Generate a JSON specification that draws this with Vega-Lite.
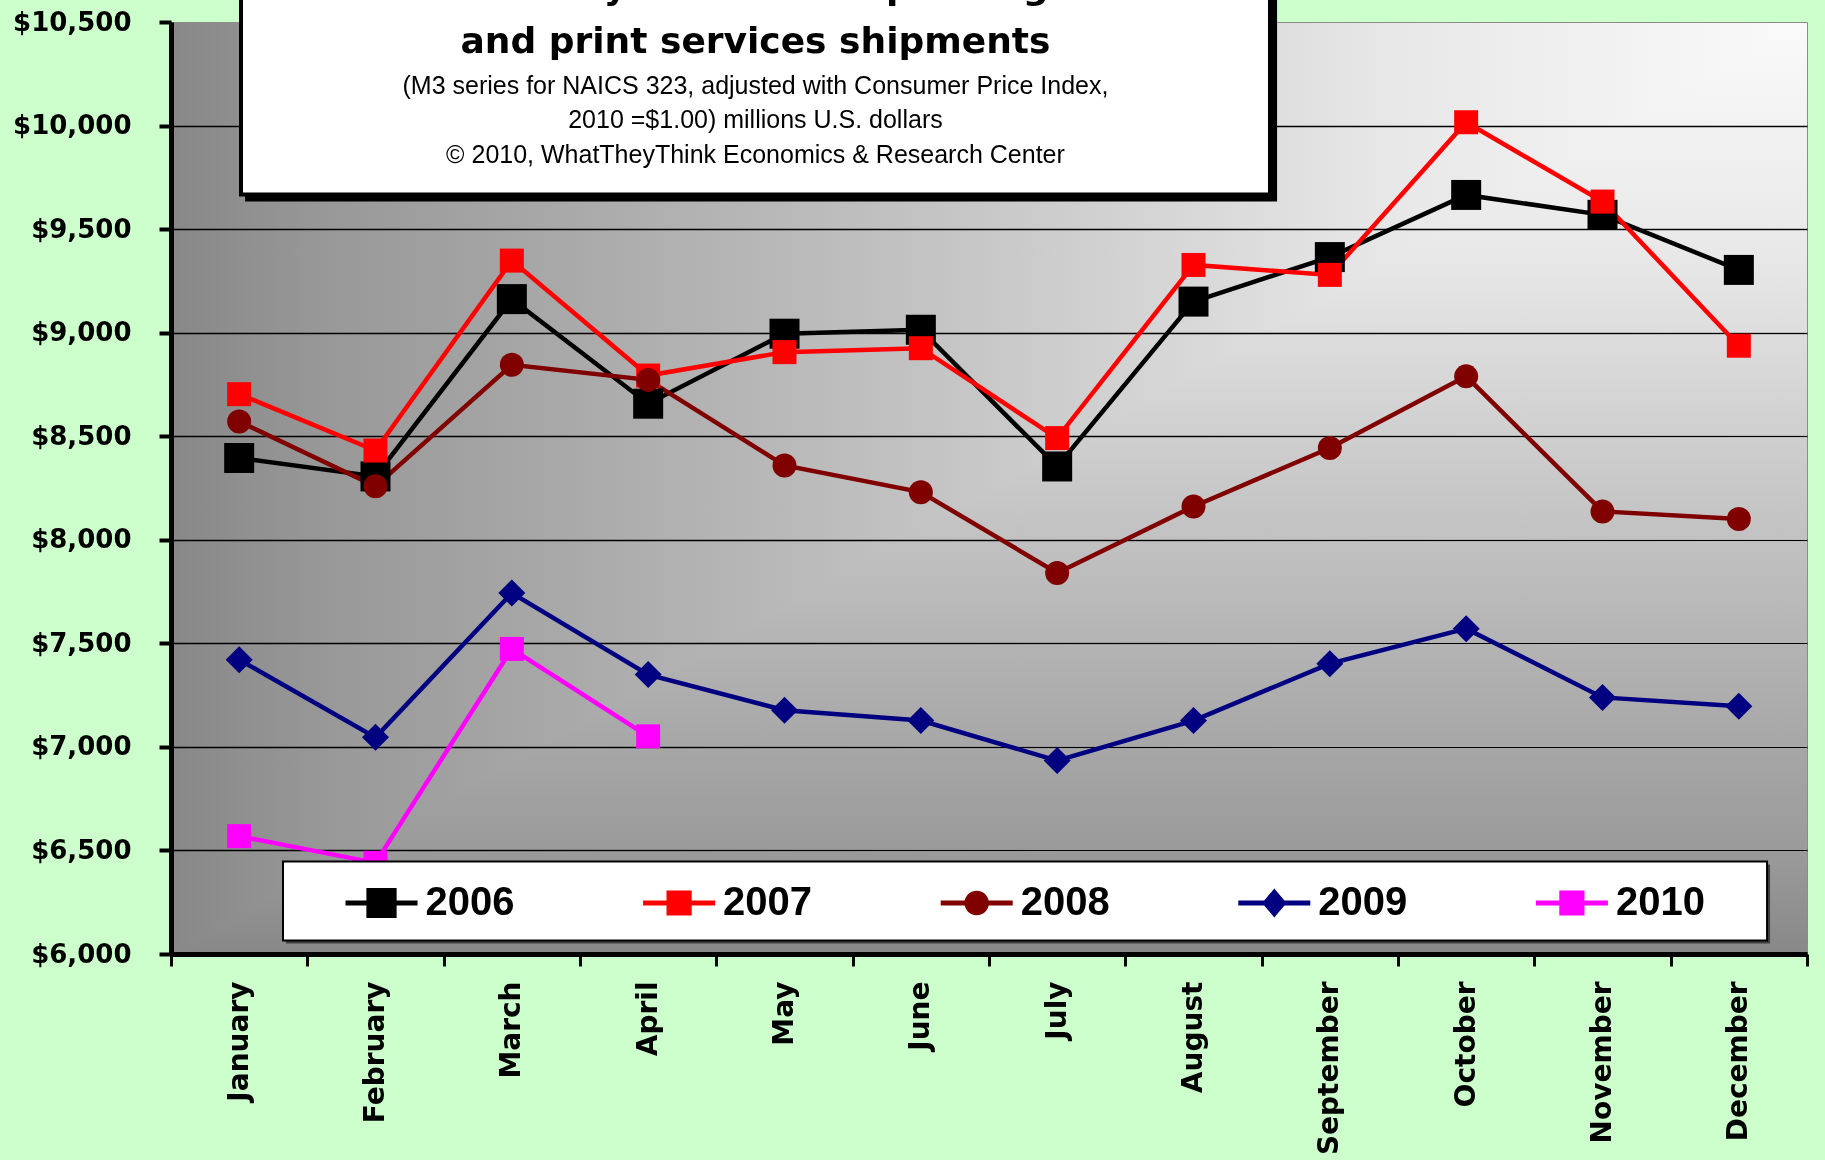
{
  "$schema": "https://vega.github.io/schema/vega-lite/v6.json",
  "width": 1636,
  "height": 932,
  "autosize": "none",
  "padding": {"left": 171, "top": 22, "right": 18, "bottom": 206},
  "background": "#CCFFCC",
  "view": {
    "fill": {"gradient": "linear", "x1": 0, "y1": 0, "x2": 1, "y2": 0,
      "stops": [{"offset": 0, "color": "#888888"}, {"offset": 0.1, "color": "#999999"}, {"offset": 0.25, "color": "#aaaaaa"}, {"offset": 0.5, "color": "#c8c8c8"}, {"offset": 0.75, "color": "#e8e8e8"}, {"offset": 1, "color": "#fafafa"}]},
    "stroke": "#8c8c8c",
    "strokeWidth": 1
  },
  "datasets": {
    "shipments": [
      {"month": "January", "year": "2006", "value": 8395},
      {"month": "February", "year": "2006", "value": 8306},
      {"month": "March", "year": "2006", "value": 9162},
      {"month": "April", "year": "2006", "value": 8657},
      {"month": "May", "year": "2006", "value": 8995},
      {"month": "June", "year": "2006", "value": 9014},
      {"month": "July", "year": "2006", "value": 8354},
      {"month": "August", "year": "2006", "value": 9150},
      {"month": "September", "year": "2006", "value": 9365},
      {"month": "October", "year": "2006", "value": 9665},
      {"month": "November", "year": "2006", "value": 9569},
      {"month": "December", "year": "2006", "value": 9303},
      {"month": "January", "year": "2007", "value": 8703},
      {"month": "February", "year": "2007", "value": 8431},
      {"month": "March", "year": "2007", "value": 9348},
      {"month": "April", "year": "2007", "value": 8793},
      {"month": "May", "year": "2007", "value": 8906},
      {"month": "June", "year": "2007", "value": 8925},
      {"month": "July", "year": "2007", "value": 8491},
      {"month": "August", "year": "2007", "value": 9327},
      {"month": "September", "year": "2007", "value": 9279},
      {"month": "October", "year": "2007", "value": 10016},
      {"month": "November", "year": "2007", "value": 9633},
      {"month": "December", "year": "2007", "value": 8937},
      {"month": "January", "year": "2008", "value": 8571},
      {"month": "February", "year": "2008", "value": 8258},
      {"month": "March", "year": "2008", "value": 8845},
      {"month": "April", "year": "2008", "value": 8772},
      {"month": "May", "year": "2008", "value": 8359},
      {"month": "June", "year": "2008", "value": 8230},
      {"month": "July", "year": "2008", "value": 7840},
      {"month": "August", "year": "2008", "value": 8161},
      {"month": "September", "year": "2008", "value": 8443},
      {"month": "October", "year": "2008", "value": 8789},
      {"month": "November", "year": "2008", "value": 8137},
      {"month": "December", "year": "2008", "value": 8100},
      {"month": "January", "year": "2009", "value": 7421},
      {"month": "February", "year": "2009", "value": 7046},
      {"month": "March", "year": "2009", "value": 7743},
      {"month": "April", "year": "2009", "value": 7349},
      {"month": "May", "year": "2009", "value": 7177},
      {"month": "June", "year": "2009", "value": 7127},
      {"month": "July", "year": "2009", "value": 6934},
      {"month": "August", "year": "2009", "value": 7127},
      {"month": "September", "year": "2009", "value": 7402},
      {"month": "October", "year": "2009", "value": 7571},
      {"month": "November", "year": "2009", "value": 7239},
      {"month": "December", "year": "2009", "value": 7196},
      {"month": "January", "year": "2010", "value": 6569},
      {"month": "February", "year": "2010", "value": 6440},
      {"month": "March", "year": "2010", "value": 7473},
      {"month": "April", "year": "2010", "value": 7051}
    ]
  },
  "layer": [
    {
      "data": {"values": [{}]},
      "mark": {"type": "rect", "blend": "darken", "fill": {"gradient": "linear", "x1": 0, "y1": 0, "x2": 0, "y2": 1,
        "stops": [{"offset": 0, "color": "#fafafa"}, {"offset": 0.25, "color": "#e8e8e8"}, {"offset": 0.5, "color": "#c8c8c8"}, {"offset": 0.75, "color": "#aaaaaa"}, {"offset": 0.9, "color": "#999999"}, {"offset": 1, "color": "#888888"}]}},
      "encoding": {}
    },
    {
      "data": {"name": "shipments"},
      "encoding": {
        "x": {
          "field": "month", "type": "ordinal",
          "sort": ["January", "February", "March", "April", "May", "June", "July", "August", "September", "October", "November", "December"],
          "scale": {"type": "band", "paddingInner": 0, "paddingOuter": 0},
          "axis": {
            "title": null, "tickBand": "extent", "grid": false,
            "labelAngle": -90, "labelAlign": "right", "labelBaseline": "middle",
            "labelFont": "DejaVu Sans", "labelFontWeight": "bold", "labelFontSize": 28, "labelColor": "black", "labelPadding": 15,
            "domainColor": "black", "domainWidth": 5, "tickColor": "black", "tickWidth": 3, "tickSize": 12
          }
        },
        "y": {
          "field": "value", "type": "quantitative",
          "scale": {"domain": [6000, 10500], "nice": false, "zero": false},
          "axis": {
            "title": null, "orient": "left", "values": [6000, 6500, 7000, 7500, 8000, 8500, 9000, 9500, 10000, 10500], "format": "$,.0f",
            "labelFont": "DejaVu Sans", "labelFontWeight": "bold", "labelFontSize": 26, "labelColor": "black", "labelPadding": 28,
            "domainColor": "black", "domainWidth": 5, "tickColor": "black", "tickWidth": 4, "tickSize": 12,
            "grid": true, "gridColor": "black", "gridWidth": 1.5,
            "gridOpacity": {"condition": {"test": "datum.value >= 10500", "value": 0}, "value": 1}
          }
        },
        "color": {
          "field": "year", "type": "nominal",
          "scale": {"domain": ["2006", "2007", "2008", "2009", "2010"], "range": ["#000000", "#FF0000", "#800000", "#000080", "#FF00FF"]},
          "legend": {
            "title": null, "orient": "none", "legendX": 174.5, "legendY": 845,
            "direction": "horizontal", "columns": 5, "padding": 0,
            "symbolSize": 5184, "symbolStrokeWidth": 0,
            "labelFont": "Liberation Sans", "labelFontSize": 40, "labelFontWeight": "bold", "labelColor": "black",
            "labelOffset": 8, "columnPadding": 128.6,
            "encode": {
              "symbols": {
                "update": {
                  "shape": {"signal": "datum.value === '2006' ? 'M-1,-0.07H1V0.07H-1Z M-0.42,-0.42H0.42V0.42H-0.42Z' : datum.value === '2008' ? 'M-1,-0.07H1V0.07H-1Z M-0.34,0A0.34,0.34,0,1,1,0.34,0A0.34,0.34,0,1,1,-0.34,0Z' : datum.value === '2009' ? 'M-1,-0.07H1V0.07H-1Z M0,-0.4L0.34,0L0,0.4L-0.34,0Z' : 'M-1,-0.07H1V0.07H-1Z M-0.35,-0.35H0.35V0.35H-0.35Z'"},
                  "fill": {"signal": "scale('color', datum.value)"},
                  "size": {"value": 5184},
                  "strokeWidth": {"value": 0},
                  "opacity": {"value": 1},
                  "fillOpacity": {"value": 1}
                }
              }
            }
          }
        }
      },
      "layer": [
        {"mark": {"type": "line", "strokeWidth": 4.5}},
        {
          "transform": [{"filter": {"field": "year", "equal": "2006"}}],
          "mark": {"type": "point", "filled": true, "opacity": 1, "shape": "square", "size": 900}
        },
        {
          "transform": [{"filter": {"field": "year", "oneOf": ["2007", "2010"]}}],
          "mark": {"type": "point", "filled": true, "opacity": 1, "shape": "square", "size": 576}
        },
        {
          "transform": [{"filter": {"field": "year", "equal": "2008"}}],
          "mark": {"type": "point", "filled": true, "opacity": 1, "shape": "circle", "size": 576}
        },
        {
          "transform": [{"filter": {"field": "year", "equal": "2009"}}],
          "mark": {"type": "point", "filled": true, "opacity": 1, "shape": "diamond", "size": 729}
        }
      ]
    },
    {
      "data": {"values": [{}]},
      "layer": [
        {
          "mark": {"type": "rect", "color": "black", "opacity": 1},
          "encoding": {
            "x": {"datum": 0.543, "type": "quantitative", "scale": {"domain": [0, 12], "nice": false, "zero": false}, "axis": null},
            "x2": {"datum": 8.113},
            "y": {"datum": 9633, "type": "quantitative", "scale": {"domain": [6000, 10500], "nice": false, "zero": false}, "axis": null},
            "y2": {"datum": 10800}
          }
        },
        {
          "mark": {"type": "rect", "fill": "white", "stroke": "black", "strokeWidth": 4, "opacity": 1},
          "encoding": {
            "x": {"datum": 0.5135, "type": "quantitative", "scale": {"domain": [0, 12], "nice": false, "zero": false}, "axis": null},
            "x2": {"datum": 8.061},
            "y": {"datum": 9667, "type": "quantitative", "scale": {"domain": [6000, 10500], "nice": false, "zero": false}, "axis": null},
            "y2": {"datum": 10800}
          }
        },
        {
          "mark": {"type": "text", "text": "Monthly commercial printing", "font": "DejaVu Sans", "fontWeight": "bold", "fontSize": 36, "align": "center", "baseline": "alphabetic", "color": "black"},
          "encoding": {
            "x": {"datum": 4.287, "type": "quantitative", "scale": {"domain": [0, 12], "nice": false, "zero": false}, "axis": null},
            "y": {"datum": 10613, "type": "quantitative", "scale": {"domain": [6000, 10500], "nice": false, "zero": false}, "axis": null}
          }
        },
        {
          "mark": {"type": "text", "text": "and print services shipments", "font": "DejaVu Sans", "fontWeight": "bold", "fontSize": 36, "align": "center", "baseline": "alphabetic", "color": "black"},
          "encoding": {
            "x": {"datum": 4.287, "type": "quantitative", "scale": {"domain": [0, 12], "nice": false, "zero": false}, "axis": null},
            "y": {"datum": 10348, "type": "quantitative", "scale": {"domain": [6000, 10500], "nice": false, "zero": false}, "axis": null}
          }
        },
        {
          "mark": {"type": "text", "text": "(M3 series for NAICS 323, adjusted with Consumer Price Index,", "font": "Liberation Sans", "fontSize": 25, "align": "center", "baseline": "alphabetic", "color": "black"},
          "encoding": {
            "x": {"datum": 4.287, "type": "quantitative", "scale": {"domain": [0, 12], "nice": false, "zero": false}, "axis": null},
            "y": {"datum": 10154, "type": "quantitative", "scale": {"domain": [6000, 10500], "nice": false, "zero": false}, "axis": null}
          }
        },
        {
          "mark": {"type": "text", "text": "2010 =$1.00) millions U.S. dollars", "font": "Liberation Sans", "fontSize": 25, "align": "center", "baseline": "alphabetic", "color": "black"},
          "encoding": {
            "x": {"datum": 4.287, "type": "quantitative", "scale": {"domain": [0, 12], "nice": false, "zero": false}, "axis": null},
            "y": {"datum": 9990, "type": "quantitative", "scale": {"domain": [6000, 10500], "nice": false, "zero": false}, "axis": null}
          }
        },
        {
          "mark": {"type": "text", "text": "© 2010, WhatTheyThink Economics & Research Center", "font": "Liberation Sans", "fontSize": 25, "align": "center", "baseline": "alphabetic", "color": "black"},
          "encoding": {
            "x": {"datum": 4.287, "type": "quantitative", "scale": {"domain": [0, 12], "nice": false, "zero": false}, "axis": null},
            "y": {"datum": 9821, "type": "quantitative", "scale": {"domain": [6000, 10500], "nice": false, "zero": false}, "axis": null}
          }
        },
        {
          "mark": {"type": "rect", "color": "#404040", "opacity": 1},
          "encoding": {
            "x": {"datum": 0.8435, "type": "quantitative", "scale": {"domain": [0, 12], "nice": false, "zero": false}, "axis": null},
            "x2": {"datum": 11.729},
            "y": {"datum": 6051, "type": "quantitative", "scale": {"domain": [6000, 10500], "nice": false, "zero": false}, "axis": null},
            "y2": {"datum": 6432}
          }
        },
        {
          "mark": {"type": "rect", "fill": "white", "stroke": "black", "strokeWidth": 2, "opacity": 1},
          "encoding": {
            "x": {"datum": 0.8215, "type": "quantitative", "scale": {"domain": [0, 12], "nice": false, "zero": false}, "axis": null},
            "x2": {"datum": 11.707},
            "y": {"datum": 6065, "type": "quantitative", "scale": {"domain": [6000, 10500], "nice": false, "zero": false}, "axis": null},
            "y2": {"datum": 6447}
          }
        }
      ]
    }
  ],
  "resolve": {"scale": {"x": "independent"}, "axis": {"y": "independent"}}
}
